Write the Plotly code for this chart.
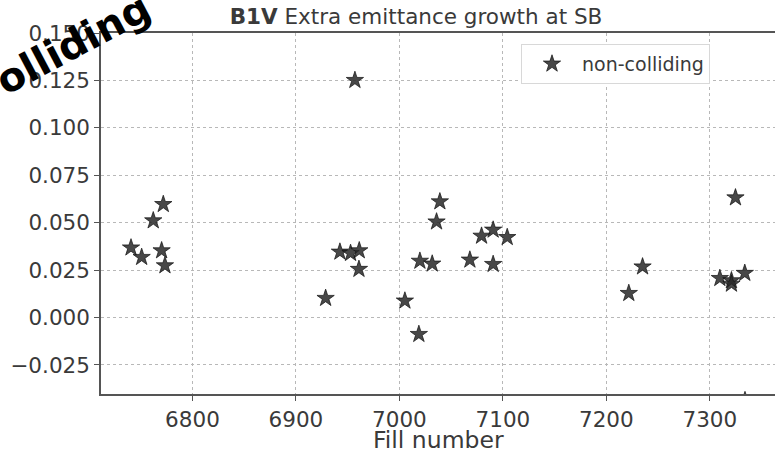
import plotly.graph_objects as go

fill_numbers = [6771.8, 6762.1, 6740.6, 6750.9, 6770.2, 6773.4,
                6957.0, 7039.1, 7035.9, 7090.6, 7079.4, 7104.2, 6942.5, 6952.8,
                6961.2, 6960.9, 7019.8, 7031.7, 7068.1, 7090.6, 6928.7, 7005.3,
                7018.8,
                7324.8, 7235.0, 7221.7, 7309.7, 7320.9, 7320.9, 7333.8, 7334.0]
growth = [0.0597, 0.0511, 0.0368, 0.0318, 0.0353, 0.0274,
          0.1251, 0.0611, 0.0505, 0.0462, 0.0430, 0.0423, 0.0346, 0.0339,
          0.0353, 0.0255, 0.0298, 0.0283, 0.0304, 0.0281, 0.0102, 0.0088,
          -0.0088,
          0.0632, 0.0268, 0.0128, 0.0207, 0.0195, 0.0177, 0.0234, -0.0437]

y_ticks = [-0.025, 0.0, 0.025, 0.05, 0.075, 0.1, 0.125, 0.15]
x_ticks = [6800, 6900, 7000, 7100, 7200, 7300]

FONT = "DejaVu Sans"
TXT = "#3a3a3a"

fig = go.Figure()
fig.add_trace(go.Scatter(
    x=fill_numbers, y=growth, mode="markers", name="non-colliding",
    marker=dict(symbol="star", size=13, color="rgba(40,40,40,0.85)",
                line=dict(color="rgba(20,20,20,0.9)", width=0.8)),
    cliponaxis=True,
))

fig.update_layout(
    width=775, height=454,
    margin=dict(l=101, r=0, t=33, b=60),
    paper_bgcolor="white", plot_bgcolor="white",
    font=dict(family=FONT, size=21, color=TXT),
    title=dict(text="<b>B1V</b> Extra emittance growth at SB",
               x=(416 - 101) / 674, xref="paper", xanchor="center",
               y=1 - 16 / 454, yref="container", yanchor="middle",
               font=dict(family=FONT, size=21.5, color=TXT)),
    showlegend=True,
    legend=dict(x=(521 - 101) / 674, y=(394 - 44) / 361, xanchor="left", yanchor="top",
                bgcolor="white", bordercolor="#d8d8d8", borderwidth=1,
                font=dict(family=FONT, size=19, color=TXT),
                itemwidth=50),
)

fig.update_xaxes(
    range=[6711.6, 7363], tickvals=x_ticks, ticktext=[str(v) for v in x_ticks],
    showline=True, linecolor="#555555", linewidth=1.5, mirror=True,
    ticks="outside", ticklen=5, tickcolor="#555555", tickwidth=1.2,
    showgrid=True, gridcolor="#b8b8b8", griddash="dot", gridwidth=0.8,
    zeroline=False,
    tickfont=dict(family=FONT, size=21.5, color=TXT),
)
fig.update_yaxes(
    range=[-0.0403, 0.15001], tickvals=y_ticks, tickformat=".3f",
    showline=True, linecolor="#555555", linewidth=1.5,
    ticks="outside", ticklen=5, tickcolor="#555555", tickwidth=1.2,
    showgrid=True, gridcolor="#b8b8b8", griddash="dot", gridwidth=0.8,
    zeroline=False,
    tickfont=dict(family=FONT, size=21.5, color=TXT),
)

# x-axis label
fig.add_annotation(
    text="Fill number", xref="paper", yref="paper",
    x=0.5, y=(394 - 440) / 361, xanchor="center", yanchor="middle",
    showarrow=False, font=dict(family=FONT, size=23.5, color=TXT),
)

fig.add_annotation(
    text="<b>olliding</b>", xref="paper", yref="paper",
    x=(73 - 101) / 674, y=(394 - 44) / 361, xanchor="center", yanchor="middle",
    textangle=-28, showarrow=False,
    font=dict(family=FONT, size=40, color="black"),
)

fig.write_html("out.html")
